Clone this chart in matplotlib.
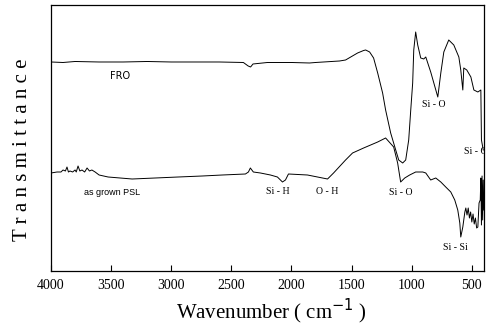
import numpy as np
import matplotlib
matplotlib.use("Agg")
import matplotlib.pyplot as plt

# FTIR spectra, transmittance in arbitrary units
fro_wn = [4000, 3900, 3800, 3600, 3400, 3200, 3000, 2800, 2600, 2400, 2360, 2340,
          2320, 2200, 2000, 1850, 1800, 1600, 1550, 1450, 1400, 1383, 1350, 1317,
          1283, 1242, 1217, 1175, 1133, 1108, 1075, 1050, 1025, 1008, 992, 983,
          967, 950, 925, 900, 883, 842, 783, 758, 733, 692, 650, 608, 592, 575,
          567, 542, 508, 483, 450, 425, 420, 405]
fro_t = [209, 208.5, 209.5, 209, 209, 209.5, 209, 209, 209, 208.5, 205, 204,
         207, 208.5, 208.5, 208, 208.5, 210, 211, 218, 220.5, 221, 219, 213,
         198, 178, 161, 138, 121, 111, 108, 111, 131, 161, 188, 221,
         239, 226, 213, 212, 214, 199, 174, 198, 219, 231, 226, 214, 201, 181,
         203, 201, 194, 181, 179, 181, 131, 121]

psl_wn = [4000, 3950, 3917, 3900, 3880, 3867, 3855, 3842, 3820, 3800, 3790, 3775,
          3760, 3742, 3720, 3700, 3680, 3660, 3633, 3600,
          3525, 3325, 3133, 2942, 2742, 2575, 2383, 2358, 2342, 2317, 2258, 2175,
          2117, 2075, 2050, 2025, 1867, 1700, 1650, 1550, 1492, 1400, 1283, 1217,
          1150, 1117, 1092, 1058, 1017, 967, 908, 883, 842, 800, 758, 717, 675,
          642, 617, 600, 592, 575, 558, 550, 540, 530, 520, 510, 500, 490, 480,
          470, 460, 450, 440, 430, 425, 420, 415, 410, 405, 400]
psl_t = [98, 99, 99, 101, 100, 104, 99, 100, 99, 101, 99, 105,
         100, 101, 99, 103, 100, 101, 99, 96,
         94, 92, 93, 94, 95, 96, 97, 99, 103, 99, 98, 96,
         94, 89, 91, 97, 96, 92, 98, 111, 118, 123, 129, 133,
         124, 108, 89, 93, 96, 99, 99, 98, 91, 93, 89, 84, 79,
         71, 61, 48, 34, 44, 59, 63, 56, 63, 53, 59, 49, 57, 47,
         53, 43, 44, 68, 71, 93, 46, 95, 51, 91, 61]

# band labels: text, wavenumber, transmittance
band_labels = ["Si - H", "O - H", "Si - O", "Si - O", "Si - O", "Si - Si"]
band_wn = [2117, 1700, 1092, 817, 470, 633]
band_t = [79, 79, 78, 166, 119, 24]

fig = plt.figure(figsize=(4.88, 3.26), dpi=100)
ax = fig.add_axes([0.1045, 0.1687, 0.887, 0.816])

ax.plot(fro_wn, fro_t, color='k', lw=0.7)
ax.plot(psl_wn, psl_t, color='k', lw=0.7)

ax.set_xlim(4000, 400)
ax.set_ylim(0, 266)
ax.set_xticks(np.arange(4000, 400, -500))
ax.set_yticks([])
ax.tick_params(axis='x', direction='in', length=4, width=0.8, pad=6,
               labelsize=10)
for lab in ax.get_xticklabels():
    lab.set_family('Liberation Serif')
for sp in ax.spines.values():
    sp.set_linewidth(0.9)

ax.text(3425, 195, "FRO", fontsize=7, family='DejaVu Sans', ha='center', va='center')
ax.text(3492, 78, "as grown PSL", fontsize=6.5, family='Liberation Sans',
        ha='center', va='center')
for s, w, t in zip(band_labels, band_wn, band_t):
    ax.text(w, t, s, fontsize=7, family='Liberation Serif', ha='center',
            va='center', clip_on=True)

ax.set_xlabel("Wavenumber ( cm$^{-1}$ )", family='Liberation Serif',
              fontsize=15)
ax.xaxis.set_label_coords(0.51, -0.095)
ax.set_ylabel("T r a n s m i t t a n c e", family='Liberation Serif',
              fontsize=15)
ax.yaxis.set_label_coords(-0.044, 0.455)

fig.savefig("out.png", dpi=100)
